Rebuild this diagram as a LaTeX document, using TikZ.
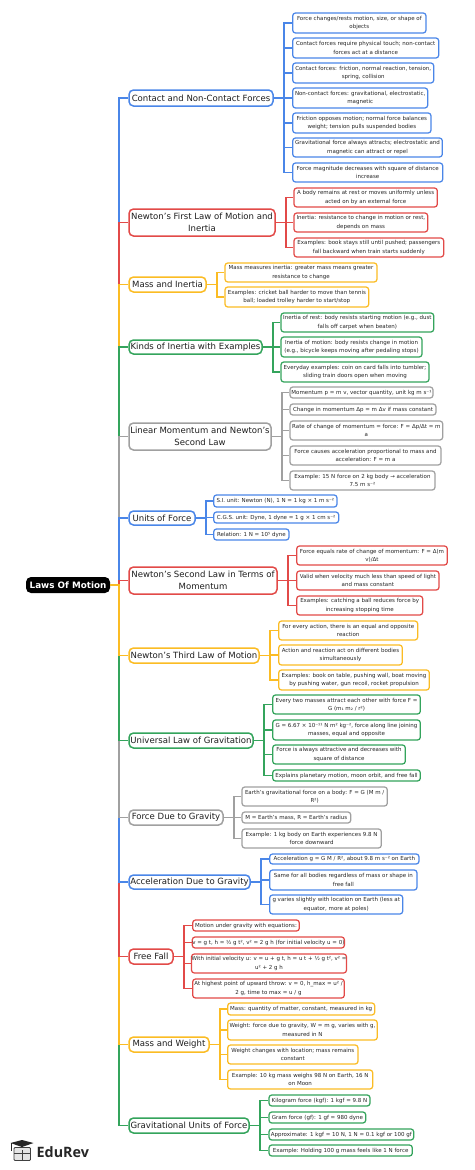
\documentclass[tikz,border=0pt]{standalone}
\usepackage{fontspec}
\setmainfont{DejaVu Sans}
\newfontfamily\logofont{Open Sans}[Scale=1]
\definecolor{cblue}{HTML}{4A86E8}
\definecolor{cred}{HTML}{E24A48}
\definecolor{cyel}{HTML}{FBBC24}
\definecolor{cgrn}{HTML}{34A45C}
\definecolor{cgry}{HTML}{A0A0A0}
\tikzset{
  rootbox/.style={fill=black,text=white,rounded corners=5pt,inner sep=0pt,align=center,font=\fontsize{8.8}{10}\selectfont\bfseries},
  branchbox/.style={draw=#1,fill=white,line width=1.5pt,rounded corners=4.5pt,inner sep=0pt,align=center,text=black!88,font=\fontsize{8.55}{12.3}\selectfont},
  leafbox/.style={draw=#1,fill=white,line width=1.25pt,rounded corners=2.8pt,inner sep=0pt,align=center,text=black!85,font=\fontsize{5.5}{8.3}\selectfont},
  trunkline/.style={draw=#1,line width=1.7pt},
  spineline/.style={draw=#1,line width=1.5pt},
}
\newcommand{\bnode}[7]{% name colour x1 x2 y1 y2 text
  \node[branchbox=#2,minimum width={(#4-#3)*1pt},minimum height={(#6-#5)*1pt}] (#1) at ({(#3+#4)/2},{(#5+#6)/2}) {#7};
}
\newcommand{\lnode}[8]{% name parent colour x1 x2 y1 y2 text
  \node[leafbox=#3,minimum width={(#5-#4)*1pt},minimum height={(#7-#6)*1pt}] (#1) at ({(#4+#5)/2},{(#6+#7)/2}) {#8};
  \draw[spineline=#3] (#2.east) -- ++(10,0) |- (#1.west);
}
\newcommand{\tconn}[2]{\draw[trunkline=#2] (root.east) -- ++(9,0) |- (#1.west);}
\begin{document}
\begin{tikzpicture}[x=1pt,y=-1pt]
\useasboundingbox (0,0) rectangle (474,1170);
\fill[white] (0,0) rectangle (474,1170);
\node[rootbox,minimum width=84pt,minimum height=16pt] (root) at (68,585) {Laws Of Motion};

\bnode{b1}{cblue}{129}{273}{90}{106}{Contact and Non-Contact Forces}
\bnode{b2}{cred}{129}{275}{209}{236}{Newton’s First Law of Motion and\\Inertia}
\bnode{b3}{cyel}{129}{206}{277}{292}{Mass and Inertia}
\bnode{b4}{cgrn}{129}{262}{340}{354}{Kinds of Inertia with Examples}
\bnode{b5}{cgry}{129}{271}{423}{450}{Linear Momentum and Newton’s\\Second Law}
\bnode{b6}{cblue}{129}{195}{511}{525}{Units of Force}
\bnode{b7}{cred}{129}{277}{567}{594}{Newton’s Second Law in Terms of\\Momentum}
\bnode{b8}{cyel}{129}{259}{648}{663}{Newton’s Third Law of Motion}
\bnode{b9}{cgrn}{129}{253}{733}{748}{Universal Law of Gravitation}
\bnode{b10}{cgry}{129}{223}{810}{825}{Force Due to Gravity}
\bnode{b11}{cblue}{129}{250}{875}{889}{Acceleration Due to Gravity}
\bnode{b12}{cred}{129}{173}{949}{964}{Free Fall}
\bnode{b13}{cyel}{129}{209}{1037}{1052}{Mass and Weight}
\bnode{b14}{cgrn}{129}{249}{1118}{1133}{Gravitational Units of Force}

\tconn{b1}{cblue}\tconn{b2}{cred}\tconn{b3}{cyel}\tconn{b4}{cgrn}\tconn{b5}{cgry}\tconn{b6}{cblue}\tconn{b7}{cred}
\tconn{b14}{cgrn}\tconn{b13}{cyel}\tconn{b12}{cred}\tconn{b11}{cblue}\tconn{b10}{cgry}\tconn{b9}{cgrn}\tconn{b8}{cyel}

\lnode{a1}{b1}{cblue}{292.7}{426}{13}{33}{Force changes/rests motion, size, or shape of\\objects}
\lnode{a2}{b1}{cblue}{292.7}{438.7}{38}{58}{Contact forces require physical touch; non-contact\\forces act at a distance}
\lnode{a3}{b1}{cblue}{292.7}{433.7}{63}{83}{Contact forces: friction, normal reaction, tension,\\spring, collision}
\lnode{a4}{b1}{cblue}{292.7}{427.7}{88}{108}{Non-contact forces: gravitational, electrostatic,\\magnetic}
\lnode{a5}{b1}{cblue}{292.7}{431}{113}{133}{Friction opposes motion; normal force balances\\weight; tension pulls suspended bodies}
\lnode{a6}{b1}{cblue}{292.7}{442.3}{138}{157}{Gravitational force always attracts; electrostatic and\\magnetic can attract or repel}
\lnode{a7}{b1}{cblue}{292.7}{442.7}{163}{182}{Force magnitude decreases with square of distance\\increase}

\lnode{c1}{b2}{cred}{294}{437.3}{188}{207}{A body remains at rest or moves uniformly unless\\acted on by an external force}
\lnode{c2}{b2}{cred}{294}{427.7}{213}{232}{Inertia: resistance to change in motion or rest,\\depends on mass}
\lnode{c3}{b2}{cred}{294}{443.7}{238}{257}{Examples: book stays still until pushed; passengers\\fall backward when train starts suddenly}

\lnode{d1}{b3}{cyel}{225}{377}{263}{282}{Mass measures inertia: greater mass means greater\\resistance to change}
\lnode{d2}{b3}{cyel}{225}{368.7}{287}{307}{Examples: cricket ball harder to move than tennis\\ball; loaded trolley harder to start/stop}

\lnode{e1}{b4}{cgrn}{281}{433.7}{313}{332}{Inertia of rest: body resists starting motion (e.g., dust\\falls off carpet when beaten)}
\lnode{e2}{b4}{cgrn}{281}{422}{337}{357}{Inertia of motion: body resists change in motion\\(e.g., bicycle keeps moving after pedaling stops)}
\lnode{e3}{b4}{cgrn}{281}{429}{362}{382}{Everyday examples: coin on card falls into tumbler;\\sliding train doors open when moving}

\lnode{f1}{b5}{cgry}{290}{433}{387}{398}{Momentum p = m v, vector quantity, unit kg m s⁻¹}
\lnode{f2}{b5}{cgry}{290}{436}{404}{415}{Change in momentum Δp = m Δv if mass constant}
\lnode{f3}{b5}{cgry}{290}{442.7}{421}{440}{Rate of change of momentum = force: F = Δp/Δt = m\\a}
\lnode{f4}{b5}{cgry}{290}{441}{446}{465}{Force causes acceleration proportional to mass and\\acceleration: F = m a}
\lnode{f5}{b5}{cgry}{290}{435}{471}{490}{Example: 15 N force on 2 kg body → acceleration\\7.5 m s⁻²}

\lnode{g1}{b6}{cblue}{213.7}{337}{495}{507}{S.I. unit: Newton (N), 1 N = 1 kg × 1 m s⁻²}
\lnode{g2}{b6}{cblue}{213.7}{338.7}{512}{523}{C.G.S. unit: Dyne, 1 dyne = 1 g × 1 cm s⁻²}
\lnode{g3}{b6}{cblue}{213.7}{289}{529}{540}{Relation: 1 N = 10⁵ dyne}

\lnode{h1}{b7}{cred}{296.7}{447.3}{546}{565}{Force equals rate of change of momentum: F = Δ(m\\v)/Δt}
\lnode{h2}{b7}{cred}{296.7}{439}{571}{590}{Valid when velocity much less than speed of light\\and mass constant}
\lnode{h3}{b7}{cred}{296.7}{422.7}{596}{615}{Examples: catching a ball reduces force by\\increasing stopping time}

\lnode{i1}{b8}{cyel}{278.7}{417.7}{621}{640}{For every action, there is an equal and opposite\\reaction}
\lnode{i2}{b8}{cyel}{278.7}{402.3}{645}{665}{Action and reaction act on different bodies\\simultaneously}
\lnode{i3}{b8}{cyel}{278.7}{429.3}{670}{690}{Examples: book on table, pushing wall, boat moving\\by pushing water, gun recoil, rocket propulsion}

\lnode{j1}{b9}{cgrn}{272.7}{420.3}{695}{714}{Every two masses attract each other with force F =\\G (m₁ m₂ / r²)}
\lnode{j2}{b9}{cgrn}{272.7}{420.3}{720}{740}{G = 6.67 × 10⁻¹¹ N m² kg⁻², force along line joining\\masses, equal and opposite}
\lnode{j3}{b9}{cgrn}{272.7}{405.3}{745}{764}{Force is always attractive and decreases with\\square of distance}
\lnode{j4}{b9}{cgrn}{272.7}{420.3}{770}{781}{Explains planetary motion, moon orbit, and free fall}

\lnode{k1}{b10}{cgry}{242}{387.3}{787}{806}{Earth’s gravitational force on a body: F = G (M m /\\R²)}
\lnode{k2}{b10}{cgry}{242}{350.7}{812}{823}{M = Earth’s mass, R = Earth’s radius}
\lnode{k3}{b10}{cgry}{242}{381.3}{829}{848}{Example: 1 kg body on Earth experiences 9.8 N\\force downward}

\lnode{m1}{b11}{cblue}{269.7}{419}{854}{864}{Acceleration g = G M / R², about 9.8 m s⁻² on Earth}
\lnode{m2}{b11}{cblue}{269.7}{417}{870}{890}{Same for all bodies regardless of mass or shape in\\free fall}
\lnode{m3}{b11}{cblue}{269.7}{402.7}{895}{914}{g varies slightly with location on Earth (less at\\equator, more at poles)}

\lnode{n1}{b12}{cred}{192.7}{299.3}{920}{931}{Motion under gravity with equations:}
\lnode{n2}{b12}{cred}{192.7}{344}{937}{948}{v = g t, h = ½ g t², v² = 2 g h (for initial velocity u = 0)}
\lnode{n3}{b12}{cred}{192.7}{345.3}{954}{973}{With initial velocity u: v = u + g t, h = u t + ½ g t², v² =\\u² + 2 g h}
\lnode{n4}{b12}{cred}{192.7}{344.3}{979}{998}{At highest point of upward throw: v = 0, h\_max = u² /\\2 g, time to max = u / g}

\lnode{p1}{b13}{cyel}{227.7}{374.7}{1003}{1015}{Mass: quantity of matter, constant, measured in kg}
\lnode{p2}{b13}{cyel}{227.7}{377.3}{1020}{1040}{Weight: force due to gravity, W = m g, varies with g,\\measured in N}
\lnode{p3}{b13}{cyel}{227.7}{358}{1045}{1064}{Weight changes with location; mass remains\\constant}
\lnode{p4}{b13}{cyel}{227.7}{372.7}{1070}{1089}{Example: 10 kg mass weighs 98 N on Earth, 16 N\\on Moon}

\lnode{q1}{b14}{cgrn}{269}{370}{1095}{1106}{Kilogram force (kgf): 1 kgf = 9.8 N}
\lnode{q2}{b14}{cgrn}{269}{365.7}{1112}{1123}{Gram force (gf): 1 gf = 980 dyne}
\lnode{q3}{b14}{cgrn}{269}{413.7}{1129}{1140}{Approximate: 1 kgf = 10 N, 1 N = 0.1 kgf or 100 gf}
\lnode{q4}{b14}{cgrn}{269}{412.3}{1145}{1156}{Example: Holding 100 g mass feels like 1 N force}

% logo
\fill[black!85] (10.5,1143) -- (22,1140) -- (33.5,1143) -- (22,1147) -- cycle;
\draw[black!85,line width=0.6pt] (10.8,1143) -- (10.8,1151);
\draw[black!75,line width=0.9pt,rounded corners=1pt,fill=black!10] (14,1147.5) rectangle (30.5,1160.5);
\draw[black!75,line width=0.6pt] (14,1153.5) -- (30.5,1153.5) (22.5,1150) -- (22.5,1160.5);
\node[anchor=west,inner sep=0pt,text=black!85,font=\logofont\fontsize{14.3}{16}\selectfont\bfseries] (logo) at (36.5,1152) {EduRev};
\end{tikzpicture}
\end{document}
